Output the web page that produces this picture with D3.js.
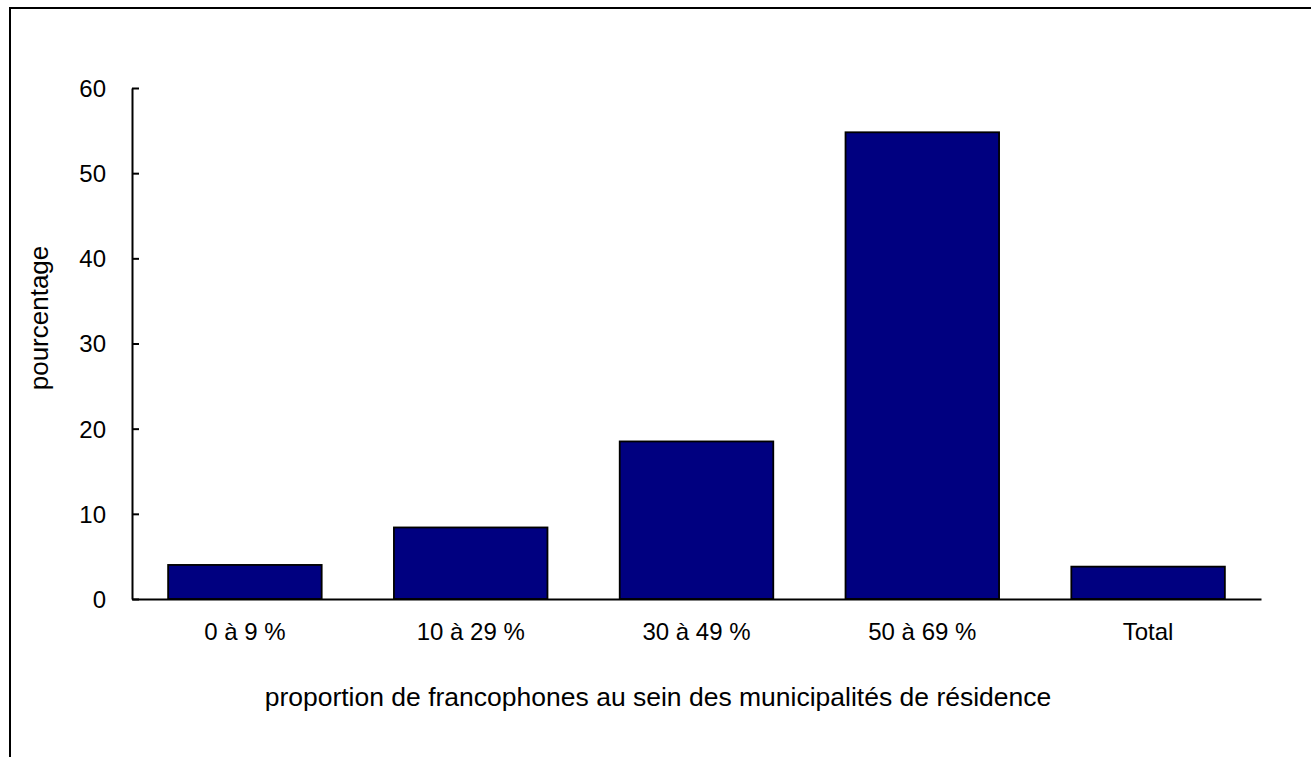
<!DOCTYPE html>
<html>
<head>
<meta charset="utf-8">
<script src="https://cdn.jsdelivr.net/npm/d3@7"></script>
<style>
  body { margin: 0; background: #fff; }
  svg text { font-family: "Liberation Sans", Arial, sans-serif; fill: #000; }
</style>
</head>
<body>
<svg id="chart" width="1311" height="757"></svg>
<script>
// categories and values
var categories = ["0 à 9 %", "10 à 29 %", "30 à 49 %", "50 à 69 %", "Total"];
var values = [4.0, 8.4, 18.5, 54.8, 3.8];
var yTicks = [0, 10, 20, 30, 40, 50, 60];

var svg = d3.select("svg#chart");

var plotLeft = 132, plotRight = 1261, plotTop = 88, plotBottom = 599;

// outer frame (runs off the right and bottom edges)
svg.append("rect")
  .attr("x", 10)
  .attr("y", 8)
  .attr("width", 1400)
  .attr("height", 800)
  .attr("fill", "none")
  .attr("stroke", "#000")
  .attr("stroke-width", 2);

var x = d3.scaleBand()
  .domain(categories)
  .range([plotLeft, plotRight])
  .paddingInner(0.32)
  .paddingOuter(0.16);

var y = d3.scaleLinear()
  .domain([0, 60])
  .range([plotBottom, plotTop]);

// bars
svg.append("g")
  .selectAll("rect")
  .data(values)
  .enter().append("rect")
  .attr("x", function(d, i) { return x(categories[i]); })
  .attr("y", function(d) { return y(d); })
  .attr("width", x.bandwidth())
  .attr("height", function(d) { return y(0) - y(d); })
  .attr("fill", "#000080")
  .attr("stroke", "#000")
  .attr("stroke-width", 1.8);

// y axis, ticks pointing inward
var yAxis = svg.append("g")
  .attr("transform", `translate(${plotLeft},0)`)
  .call(d3.axisLeft(y).tickValues(yTicks).tickSizeInner(-7).tickSizeOuter(0).tickPadding(26));

yAxis.selectAll("path, line").attr("stroke", "#000").attr("stroke-width", 2);
yAxis.selectAll("text")
  .style("font-size", "24px")
  .attr("dy", "0.35em");

// x axis, no ticks
var xAxis = svg.append("g")
  .attr("transform", `translate(0,${plotBottom})`)
  .call(d3.axisBottom(x).tickSize(0).tickPadding(24));

xAxis.selectAll("path").attr("stroke", "#000").attr("stroke-width", 2);
xAxis.selectAll("text").style("font-size", "24px");

// axis titles
svg.append("text")
  .attr("x", 658)
  .attr("y", 706)
  .style("text-anchor", "middle")
  .style("font-size", "26.5px")
  .text("proportion de francophones au sein des municipalités de résidence");

svg.append("text")
  .attr("transform", "translate(48,318) rotate(-90)")
  .style("text-anchor", "middle")
  .style("font-size", "26px")
  .text("pourcentage");
</script>
</body>
</html>
